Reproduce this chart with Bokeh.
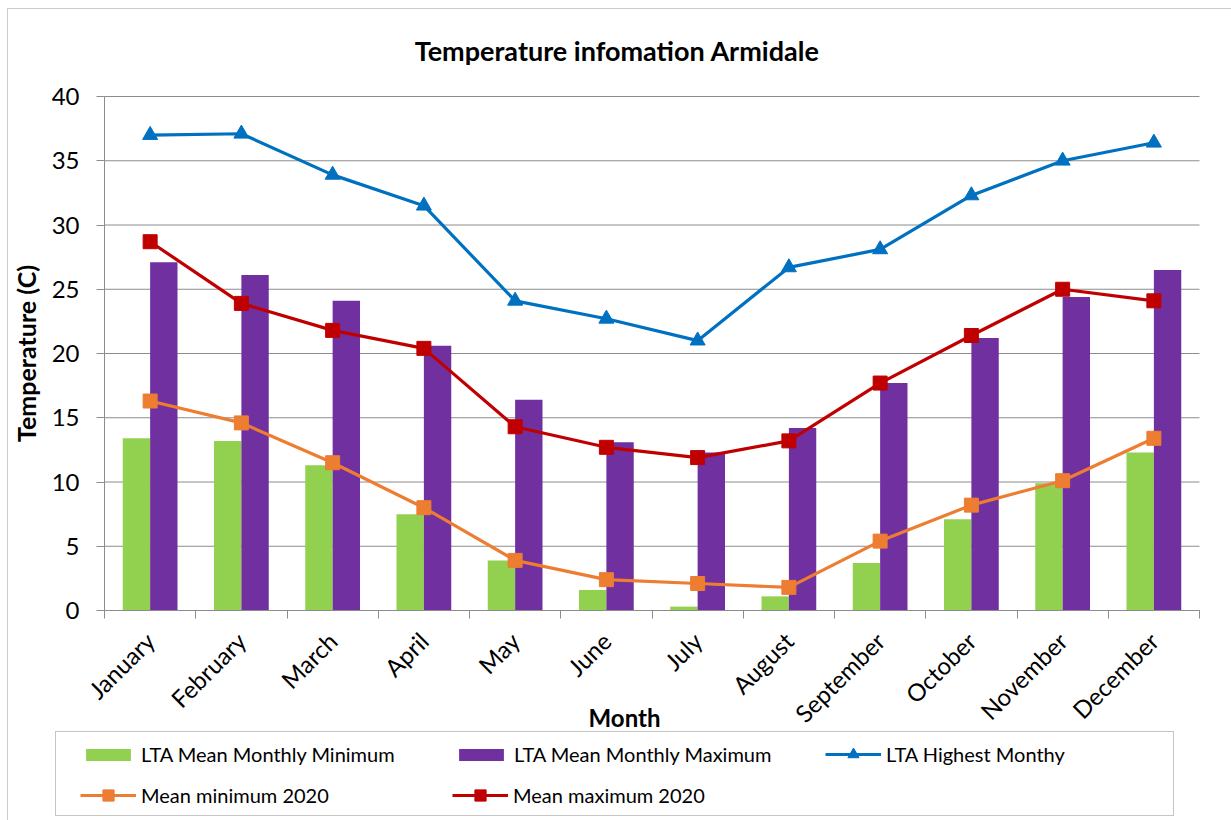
from math import pi
from bokeh.plotting import figure
from bokeh.models import (Range1d, FixedTicker, LinearAxis, Legend, LegendItem, Label,
                          ColumnDataSource)
from bokeh.embed import file_html
from bokeh.resources import INLINE

# ---------------- data ----------------
months = ["January", "February", "March", "April", "May", "June", "July",
          "August", "September", "October", "November", "December"]
lta_mean_min = [13.4, 13.2, 11.3, 7.5, 3.9, 1.6, 0.3, 1.1, 3.7, 7.1, 9.9, 12.3]
lta_mean_max = [27.1, 26.1, 24.1, 20.6, 16.4, 13.1, 12.3, 14.2, 17.7, 21.2, 24.4, 26.5]
lta_highest = [37.0, 37.1, 33.9, 31.5, 24.1, 22.7, 21.0, 26.7, 28.1, 32.3, 35.0, 36.4]
mean_min_2020 = [16.3, 14.6, 11.5, 8.0, 3.9, 2.4, 2.1, 1.8, 5.4, 8.2, 10.1, 13.4]
mean_max_2020 = [28.7, 23.9, 21.8, 20.4, 14.3, 12.7, 11.9, 13.2, 17.7, 21.4, 25.0, 24.1]
y_ticks = [0, 5, 10, 15, 20, 25, 30, 35, 40]

title_text = "Temperature  infomation Armidale"
x_title = "Month"
y_title = "Temperature (C)"
series_names = ["LTA Mean Monthly Minimum", "LTA Mean Monthly Maximum", "LTA Highest Monthy",
                "Mean minimum 2020", "Mean maximum 2020"]

GREEN, PURPLE, BLUE, ORANGE, RED = "#92D050", "#7030A0", "#0070C0", "#ED7D31", "#C00000"
GRID = "#8c8c8c"
FONT = "Lato"

# ---------------- layout (canvas pixels) ----------------
W, H = 1231, 820
PL, PR, PT, PB = 104, 1199, 96, 610        # plot-area edges

n = len(months)
y_lo, y_hi = y_ticks[0], y_ticks[-1]
ux = n / (PR - PL)                          # data units per pixel (x)
uy = (y_hi - y_lo) / (PB - PT)              # data units per pixel (y)
x_range = Range1d(0 - PL * ux, n + (W - PR) * ux)
y_range = Range1d(y_lo - (H - PB) * uy, y_hi + PT * uy)

centers = [i + 0.5 for i in range(n)]       # category centres
boundaries = list(range(n + 1))             # category boundaries

src = ColumnDataSource(dict(x=centers, month=months,
                            x_min=[c - 0.15 for c in centers], x_max=[c + 0.15 for c in centers],
                            lta_min=lta_mean_min, lta_max=lta_mean_max,
                            high=lta_highest, min20=mean_min_2020, max20=mean_max_2020))

p = figure(width=W, height=H, output_backend="svg", toolbar_location=None,
           x_range=x_range, y_range=y_range, x_axis_location=None, y_axis_location=None,
           title=None, min_border=0)
p.min_border_left = p.min_border_right = p.min_border_top = p.min_border_bottom = 0
p.outline_line_color = None
p.background_fill_color = "white"
p.border_fill_color = "white"
p.center = []          # no default grids

# horizontal gridlines (behind the bars)
p.segment(x0=0, x1=n, y0=y_ticks, y1=y_ticks, line_color=GRID, line_width=1, level="underlay")

# y axis fixed at the left edge of the plot area
yaxis = LinearAxis(ticker=FixedTicker(ticks=y_ticks), axis_label=y_title,
                   fixed_location=0, bounds=(y_lo, y_hi))
yaxis.axis_line_color = GRID
yaxis.major_tick_line_color = GRID
yaxis.major_tick_out = 8
yaxis.major_tick_in = 0
yaxis.minor_tick_line_color = None
yaxis.major_label_text_font = FONT
yaxis.major_label_text_font_size = "24px"
yaxis.major_label_text_color = "black"
yaxis.major_label_standoff = 17
yaxis.axis_label_text_font = FONT
yaxis.axis_label_text_font_style = "bold"
yaxis.axis_label_text_font_size = "25px"
yaxis.axis_label_text_color = "black"
yaxis.axis_label_standoff = 8
p.add_layout(yaxis, "left")

# x axis fixed at y = 0: labels at category centres, tick marks at boundaries
xaxis = LinearAxis(ticker=FixedTicker(ticks=centers, minor_ticks=boundaries),
                   major_label_overrides={c: m for c, m in zip(centers, months)},
                   fixed_location=y_lo, bounds=(0, n))
xaxis.axis_line_color = GRID
xaxis.major_tick_line_color = None
xaxis.major_tick_out = 8
xaxis.major_tick_in = 0
xaxis.minor_tick_line_color = GRID
xaxis.minor_tick_out = 8
xaxis.minor_tick_in = 0
xaxis.major_label_orientation = pi / 4
xaxis.major_label_text_font = FONT
xaxis.major_label_text_font_size = "24px"
xaxis.major_label_text_color = "black"
xaxis.major_label_standoff = 18
p.add_layout(xaxis, "below")

# bars
r_min = p.vbar(x="x_min", top="lta_min", width=0.3, bottom=0,
               source=src, fill_color=GREEN, line_color=None)
r_max = p.vbar(x="x_max", top="lta_max", width=0.3, bottom=0,
               source=src, fill_color=PURPLE, line_color=None)

# lines with markers
l_high = p.line("x", "high", source=src, line_color=BLUE, line_width=3.2)
m_high = p.scatter("x", "high", source=src, marker="triangle", size=15,
                   fill_color=BLUE, line_color=BLUE)
l_min = p.line("x", "min20", source=src, line_color=ORANGE, line_width=3.2)
m_min = p.scatter("x", "min20", source=src, marker="square", size=14,
                  fill_color=ORANGE, line_color=ORANGE)
l_max = p.line("x", "max20", source=src, line_color=RED, line_width=3.2)
m_max = p.scatter("x", "max20", source=src, marker="square", size=14,
                  fill_color=RED, line_color=RED)

dummy = p.line(x=[], y=[], line_alpha=0)


def box(left, top, w, h, color, lw):
    lg = Legend(items=[LegendItem(label=" ", renderers=[dummy])],
                location=(left, H - (top + h)), padding=0, margin=0,
                glyph_width=1, glyph_height=1, label_standoff=0,
                label_width=w - 1, label_height=h, label_text_font_size="1px",
                border_line_color=color, border_line_width=lw,
                background_fill_alpha=0)
    p.add_layout(lg, "center")


# outer chart border (only its top and left edges are inside the window)
box(7, 10, 1400, 1000, "#9a9a9a", 1)
# legend frame
box(55, 733, 1117, 83, "#8c8c8c", 1.5)

ITEM_H = 28


def entry(label, renderers, left, cy, gh):
    lg = Legend(items=[LegendItem(label=label, renderers=renderers)],
                location=(left, H - (cy + ITEM_H / 2)), padding=0, margin=0,
                glyph_width=56, glyph_height=gh, label_standoff=5, label_height=ITEM_H,
                label_text_font=FONT, label_text_font_size="20px", label_text_color="black",
                border_line_color=None, background_fill_alpha=0)
    p.add_layout(lg, "center")


entry(series_names[0], [r_min], 80, 754, 15)
entry(series_names[1], [r_max], 453, 754, 15)
entry(series_names[2], [l_high, m_high], 825, 754, 28)
entry(series_names[3], [l_min, m_min], 80, 795, 28)
entry(series_names[4], [l_max, m_max], 452, 795, 28)

# chart title and x-axis title
p.add_layout(Label(x=620, y=H - 50, x_units="screen", y_units="screen", text=title_text,
                   text_align="center", text_baseline="middle", text_font=FONT,
                   text_font_style="bold", text_font_size="27px", text_color="black"))
p.add_layout(Label(x=624, y=H - 717, x_units="screen", y_units="screen", text=x_title,
                   text_align="center", text_baseline="middle", text_font=FONT,
                   text_font_style="bold", text_font_size="24px", text_color="black"))

open("out.html", "w").write(file_html(p, INLINE))
